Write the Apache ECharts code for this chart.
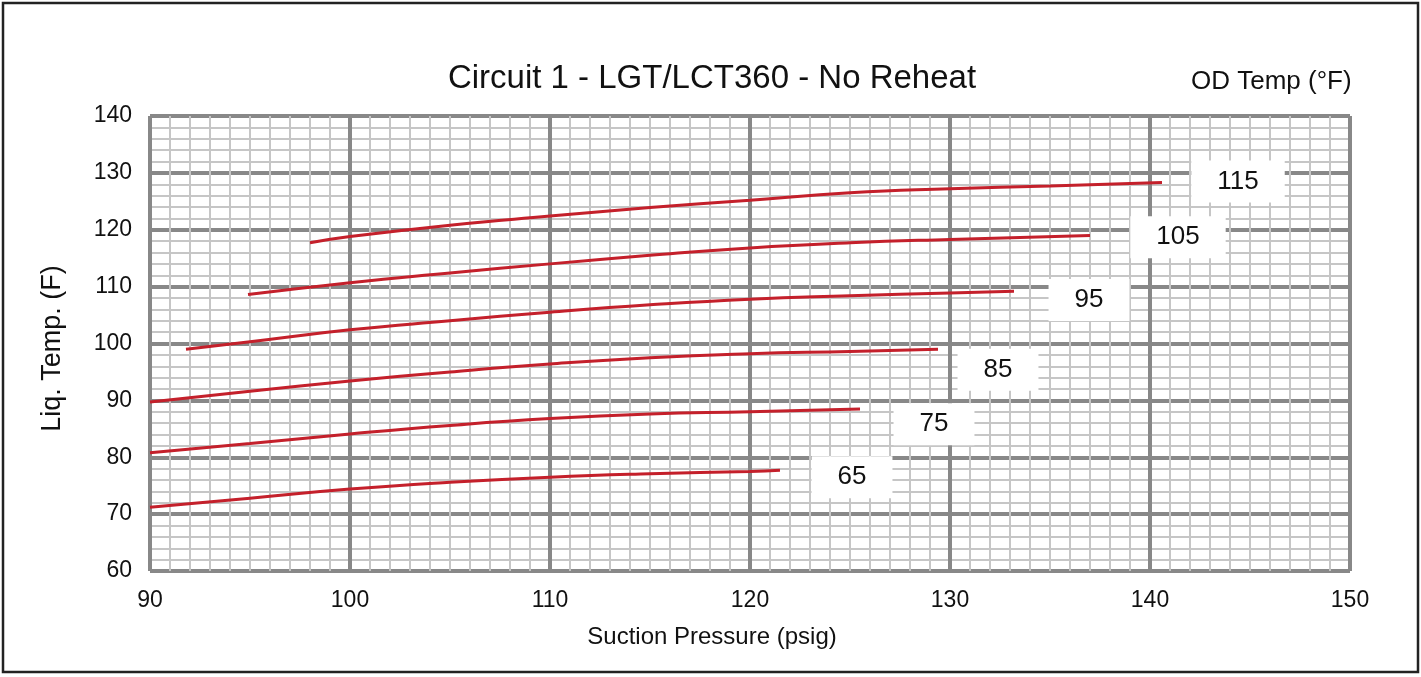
<!DOCTYPE html>
<html><head><meta charset="utf-8">
<script src="https://cdn.jsdelivr.net/npm/echarts@6/dist/echarts.min.js"></script>
<style>html,body{margin:0;padding:0;background:#fff}#c{width:1421px;height:677px}</style>
</head><body><div id="c"></div>
<script>
const odTemps = ['65','75','85','95','105','115'];
const curve65 = [[90,71.2],[95,72.8],[100,74.4],[105,75.6],[110,76.5],[115,77.1],[120,77.5],[121.5,77.7]];
const curve75 = [[90,80.8],[95,82.4],[100,84.1],[105,85.6],[110,86.8],[115,87.6],[120,88.0],[125.5,88.5]];
const curve85 = [[90,89.7],[95,91.6],[100,93.4],[105,95.0],[110,96.4],[115,97.5],[120,98.2],[125,98.6],[129.4,99.0]];
const curve95 = [[91.8,99.0],[95,100.3],[100,102.4],[105,104.0],[110,105.5],[115,106.8],[120,107.8],[125,108.4],[130,108.9],[133.2,109.2]];
const curve105 = [[94.9,108.6],[100,110.7],[105,112.4],[110,114.0],[115,115.5],[120,116.8],[125,117.7],[130,118.3],[137,119.0]];
const curve115 = [[98,117.7],[100,118.8],[105,120.8],[110,122.4],[115,123.9],[120,125.2],[125,126.5],[130,127.2],[135,127.7],[140.6,128.3]];
const labelX = [125.1,129.2,132.4,136.95,141.4,144.4];
const labelY = [76.5,85.8,95.4,107.65,118.7,128.5];
const xTicks = [90,100,110,120,130,140,150];
const yTicks = [60,70,80,90,100,110,120,130,140];

const curves = [curve65,curve75,curve85,curve95,curve105,curve115];
const font = 'Liberation Sans, Arial, sans-serif';
const chart = echarts.init(document.getElementById('c'));
const series = curves.map((c,i)=>({
  type:'line', name:odTemps[i], data:c, smooth:true, showSymbol:false, z:5,
  lineStyle:{color:'#c4202b', width:3}
}));
series.push({
  type:'scatter', z:10, symbolSize:1, itemStyle:{color:'#fff', opacity:1},
  emphasis:{disabled:true},
  data: odTemps.map((t,i)=>({value:[labelX[i],labelY[i]], name:t})),
  label:{show:true, position:'inside', formatter:p=>p.name, color:'#111', fontSize:26, fontFamily:font,
    backgroundColor:'#fff', padding:[8,26,8,26]}
});
chart.setOption({
  animation:false,
  backgroundColor:'#fff',
  title:[{text:'Circuit 1 - LGT/LCT360 - No Reheat', left:707, top:57, textAlign:'center',
    textStyle:{fontFamily:font, fontSize:33, fontWeight:'normal', color:'#111'}},
    {text:'OD Temp (\u00B0F)', left:1186, top:64, textStyle:{fontFamily:font, fontSize:26, fontWeight:'normal', color:'#111'}}],
  graphic:[{type:'rect', shape:{x:3,y:3,width:1415,height:669}, style:{fill:'none', stroke:'#222', lineWidth:2.5}, z:100}],
  grid:{left:150, top:116, right:71, bottom:106, containLabel:false},
  xAxis:{type:'value', min:90, max:150, interval:10,
    name:'Suction Pressure (psig)', nameLocation:'middle', nameGap:54,
    nameTextStyle:{fontFamily:font, fontSize:24, color:'#111', padding:[0,76,0,0]},
    axisLine:{show:false}, axisTick:{show:false},
    axisLabel:{fontFamily:font, fontSize:23, color:'#111', margin:18, formatter:v=>xTicks.includes(v)?String(v):''},
    splitLine:{show:true, lineStyle:{color:'#888', width:4}},
    minorTick:{show:false, splitNumber:10},
    minorSplitLine:{show:true, lineStyle:{color:'#c6c6c6', width:2}}},
  yAxis:{type:'value', min:60, max:140, interval:10,
    name:'Liq. Temp. (F)', nameLocation:'middle', nameGap:84, nameRotate:90,
    nameTextStyle:{fontFamily:font, fontSize:27, color:'#111', padding:[0,10,0,0]},
    axisLine:{show:false}, axisTick:{show:false},
    axisLabel:{fontFamily:font, fontSize:23, color:'#111', margin:18, formatter:v=>yTicks.includes(v)?String(v):''},
    splitLine:{show:true, lineStyle:{color:'#888', width:4}},
    minorTick:{show:false, splitNumber:5},
    minorSplitLine:{show:true, lineStyle:{color:'#c6c6c6', width:2}}},
  series
});
</script></body></html>
